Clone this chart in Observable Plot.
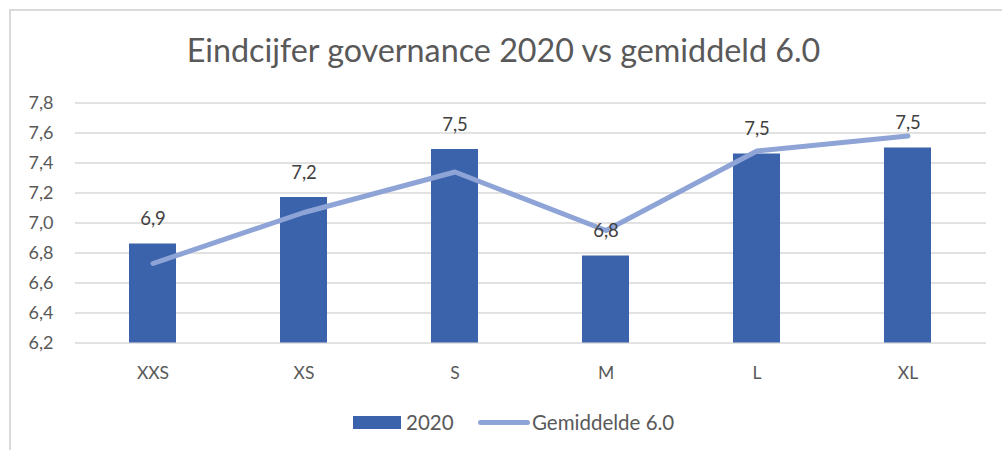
<!DOCTYPE html>
<html>
<head>
<meta charset="utf-8">
<script src="https://cdn.jsdelivr.net/npm/d3@7"></script>
<script src="https://cdn.jsdelivr.net/npm/@observablehq/plot@0.6"></script>
<style>
  html, body { margin: 0; padding: 0; background: #fff; }
  #wrap { position: relative; width: 1002px; height: 450px; overflow: hidden; font-family: Lato, "Open Sans", sans-serif; }
  #frame { position: absolute; left: 9px; top: 9px; width: 1100px; height: 600px; border: 2px solid #D9D9D9; box-sizing: border-box; }
  #title { position: absolute; left: 0; top: 29px; width: 1007px; text-align: center; font-size: 32.3px; color: #595959; line-height: 42px; }
  #chart { position: absolute; left: 0; top: 0; }
  .leg { position: absolute; font-size: 20.5px; color: #595959; line-height: 24px; }
</style>
</head>
<body>
<div id="wrap">
  <div id="frame"></div>
  <div id="chart"></div>
  <div id="title">Eindcijfer governance 2020 vs gemiddeld 6.0</div>
  <div class="leg" style="left:353px; top:416px; width:48px; height:13px; background:#3B63AB;"></div>
  <div class="leg" style="left:406px; top:410px;">2020</div>
  <div class="leg" style="left:478px; top:419.5px; width:52px; height:5px; border-radius:3px; background:#8FA4D6;"></div>
  <div class="leg" style="left:532px; top:410px;">Gemiddelde 6.0</div>
</div>
<script>
const categories = ["XXS", "XS", "S", "M", "L", "XL"];
const values2020 = [6.86, 7.17, 7.49, 6.78, 7.46, 7.50];
const gemiddelde = [6.73, 7.07, 7.34, 6.95, 7.48, 7.58];
const yTicks = [6.2, 6.4, 6.6, 6.8, 7.0, 7.2, 7.4, 7.6, 7.8];
const yMin = 6.2, yMax = 7.8;

const data = categories.map((c, i) => ({cat: c, v: values2020[i], g: gemiddelde[i]}));
const comma1 = d => d.toFixed(1).replace(".", ",");

const plot = Plot.plot({
  width: 1002,
  height: 400,
  marginLeft: 75,
  marginRight: 16,
  marginTop: 102.5,
  marginBottom: 57.5,
  style: {fontFamily: "Lato, 'Open Sans', sans-serif", background: "transparent", overflow: "visible"},
  x: {domain: categories, paddingInner: 0.686, paddingOuter: 0.343, label: null},
  y: {domain: [yMin, yMax], label: null},
  marks: [
    Plot.ruleY(yTicks, {stroke: "#D9D9D9", strokeWidth: 1.5}),
    Plot.barY(data, {x: "cat", y1: () => yMin, y2: "v", fill: "#3B63AB"}),
    Plot.lineY(data, {x: "cat", y: "g", stroke: "#8FA4D6", strokeWidth: 5, strokeLinecap: "round", strokeLinejoin: "round"}),
    Plot.text(data, {x: "cat", y: "v", text: d => comma1(d.v), dy: -24.5, fontSize: 18.5, fill: "#404040"}),
    Plot.axisY({ticks: yTicks, tickSize: 0, tickPadding: 22, tickFormat: comma1, fontSize: 18, fill: "#595959", label: null}),
    Plot.axisX({tickSize: 0, tickPadding: 23.5, fontSize: 17.5, fill: "#595959", label: null})
  ]
});
document.getElementById("chart").appendChild(plot);
</script>
</body>
</html>
